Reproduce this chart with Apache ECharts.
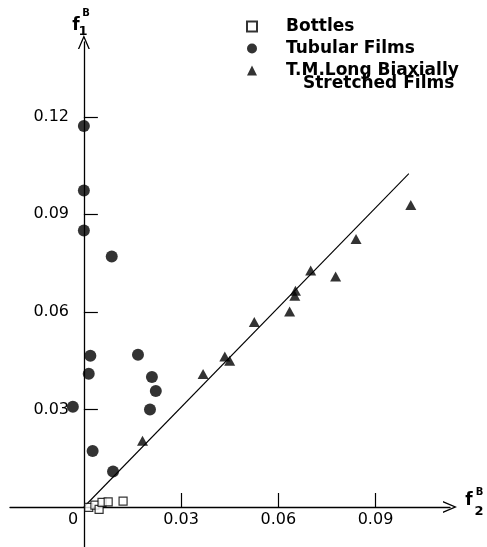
<!DOCTYPE html>
<html>
<head>
<meta charset="utf-8">
<script src="https://cdn.jsdelivr.net/npm/echarts@6/dist/echarts.min.js"></script>
<style>
  html, body { margin: 0; padding: 0; background: #fff; }
  #chart { width: 487px; height: 547px; }
</style>
</head>
<body>
<div id="chart"></div>
<script>
// values, [f2B, f1B]
var bottles = [[0.0015, -0.0001], [0.0034, 0.0006], [0.0047, -0.0007], [0.0056, 0.0014], [0.0075, 0.0016], [0.0121, 0.0018]];
var tubular = [[0, 0.1172], [0, 0.0973], [0, 0.085], [0.0086, 0.077], [0.002, 0.0465], [0.0015, 0.041],
               [-0.0034, 0.0308], [0.0027, 0.0172], [0.0167, 0.0468], [0.021, 0.040], [0.0222, 0.0357],
               [0.0204, 0.030], [0.009, 0.0109]];
var stretched = [[0.0181, 0.0204], [0.0368, 0.0409], [0.0435, 0.0463], [0.045, 0.045], [0.0526, 0.0569],
                 [0.0635, 0.0601], [0.0651, 0.0650], [0.0653, 0.0665], [0.070, 0.0727], [0.0777, 0.0709],
                 [0.084, 0.0824], [0.1009, 0.0929]];
var fitLine = [[0, 0], [0.1003, 0.1025]];

var xTicks = [0.03, 0.06, 0.09];
var xLabels = [0, 0.03, 0.06, 0.09];
var yTicks = [0.03, 0.06, 0.09, 0.12];

var names = ['Bottles', 'Tubular Films', 'T.M.Long Biaxially Stretched Films'];

var xMin = -0.0228, xMax = 0.113;
var yMin = -0.0123, yMax = 0.143;

var font = 'DejaVu Sans';
var ink = '#000';
var chevron = 'path://M0,14 L6,0 L12,14 L10.6,14 L6,3.2 L1.4,14 Z';

var myChart = echarts.init(document.getElementById('chart'));

// grid 0 holds the crossing axes and the marks,
// grid 1 starts at the origin and only carries the tick labels
// (v6 keeps onZero labels at the grid edge)
var option = {
    backgroundColor: '#fff',
    animation: false,
    grid: [
        { left: 10, right: 37, top: 42, bottom: 0, outerBoundsMode: 'none' },
        { left: 84, right: 37, top: 42, bottom: 40, outerBoundsMode: 'none' }
    ],
    legend: {
        orient: 'vertical',
        left: 246,
        top: 18,
        padding: 0,
        itemGap: 5,
        itemWidth: 10,
        itemHeight: 10,
        data: [
            { name: names[0], icon: 'rect' },
            { name: names[1], icon: 'circle' },
            { name: names[2], icon: 'triangle' }
        ],
        formatter: function (name) {
            // second line of the last entry is drawn below as its own text
            return name === names[2] ? 'T.M.Long Biaxially' : name;
        },
        textStyle: {
            fontFamily: font, fontWeight: 'bold', fontSize: 17, color: ink,
            lineHeight: 17, padding: [0, 0, 0, 24]
        }
    },
    xAxis: [
        {
            type: 'value',
            gridIndex: 0,
            min: xMin,
            max: xMax,
            splitLine: { show: false },
            axisLine: {
                onZero: true,
                lineStyle: { color: ink, width: 1.3 },
                symbol: ['none', chevron],
                symbolSize: [12, 14]
            },
            axisTick: { show: true, inside: true, length: 14, customValues: xTicks, lineStyle: { color: ink, width: 1.2 } },
            axisLabel: { show: false }
        },
        {
            type: 'value',
            gridIndex: 1,
            min: 0,
            max: xMax,
            splitLine: { show: false },
            axisLine: { show: false },
            axisTick: { show: false },
            axisLabel: {
                customValues: xLabels,
                margin: 5,
                fontFamily: font,
                fontSize: 16,
                color: ink,
                formatter: function (v) {
                    return v === 0 ? '{z|0}' : v.toFixed(2);
                },
                rich: { z: { padding: [0, 22, 0, 0], fontFamily: font, fontSize: 16, color: ink } }
            }
        }
    ],
    yAxis: [
        {
            type: 'value',
            gridIndex: 0,
            min: yMin,
            max: yMax,
            splitLine: { show: false },
            axisLine: {
                onZero: true,
                lineStyle: { color: ink, width: 1.3 },
                symbol: ['none', chevron],
                symbolSize: [12, 14]
            },
            axisTick: { show: true, inside: true, length: 14, customValues: yTicks, lineStyle: { color: ink, width: 1.2 } },
            axisLabel: { show: false }
        },
        {
            type: 'value',
            gridIndex: 1,
            min: 0,
            max: yMax,
            splitLine: { show: false },
            axisLine: { show: false },
            axisTick: { show: false },
            axisLabel: {
                customValues: yTicks,
                margin: 15,
                fontFamily: font,
                fontSize: 16,
                color: ink,
                formatter: function (v) { return v.toFixed(2); }
            }
        }
    ],
    graphic: [
        { type: 'text', style: { text: 'f', x: 76, y: 26, align: 'center', verticalAlign: 'middle', font: 'bold 17px "DejaVu Sans"', fill: ink } },
        { type: 'text', style: { text: '1', x: 83, y: 32, align: 'center', verticalAlign: 'middle', font: 'bold 13px "DejaVu Sans"', fill: ink } },
        { type: 'text', style: { text: 'B', x: 86, y: 13.5, align: 'center', verticalAlign: 'middle', font: 'bold 10px "DejaVu Sans"', fill: ink } },
        { type: 'text', style: { text: 'f', x: 469, y: 501, align: 'center', verticalAlign: 'middle', font: 'bold 17px "DejaVu Sans"', fill: ink } },
        { type: 'text', style: { text: '2', x: 479, y: 512, align: 'center', verticalAlign: 'middle', font: 'bold 13px "DejaVu Sans"', fill: ink } },
        { type: 'text', style: { text: 'B', x: 479.5, y: 492.5, align: 'center', verticalAlign: 'middle', font: 'bold 10px "DejaVu Sans"', fill: ink } },
        { type: 'text', style: { text: 'Stretched Films', x: 303, y: 84, align: 'left', verticalAlign: 'middle', font: 'bold 17px "DejaVu Sans"', fill: ink } }
    ],
    series: [
        {
            name: 'fit',
            type: 'line',
            data: fitLine,
            symbol: 'none',
            silent: true,
            lineStyle: { color: ink, width: 1.1 },
            z: 1
        },
        {
            name: names[0],
            type: 'scatter',
            symbol: 'rect',
            symbolSize: 8,
            clip: false,
            data: bottles,
            itemStyle: { color: '#fff', borderColor: ink, borderWidth: 1.2 },
            z: 3
        },
        {
            name: names[1],
            type: 'scatter',
            symbol: 'circle',
            symbolSize: 12,
            clip: false,
            data: tubular,
            itemStyle: { color: ink },
            z: 3
        },
        {
            name: names[2],
            type: 'scatter',
            symbol: 'triangle',
            symbolSize: [11, 10],
            clip: false,
            data: stretched,
            itemStyle: { color: ink },
            z: 3
        }
    ]
};

myChart.setOption(option);
</script>
</body>
</html>
